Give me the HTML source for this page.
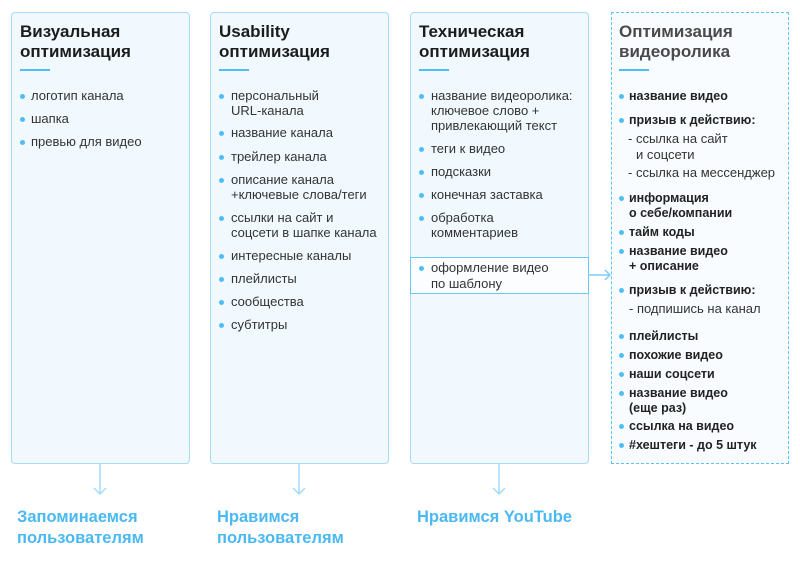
<!DOCTYPE html>
<html><head><meta charset="utf-8"><style>
*{margin:0;padding:0;box-sizing:border-box}
body{width:800px;height:574px;background:#fff;position:relative;font-family:"Liberation Sans",sans-serif;overflow:hidden}
.box{position:absolute;top:12px;height:452px;width:179px;background:#f1f9fe;border:1px solid #a6dcf8;border-radius:4px}
.h{position:absolute;font-size:17px;font-weight:bold;color:#1c1c1c;line-height:20px;white-space:nowrap}
.u{position:absolute;top:69px;width:30px;height:2px;background:#4fbef5}
.t{position:absolute;font-size:13px;color:#333;line-height:16px;white-space:nowrap}
.b{font-weight:bold;font-size:12.5px;color:#222}
.d{position:absolute;width:5px;height:5px;border-radius:50%;background:#4fbef5}
.f{position:absolute;font-size:16.5px;font-weight:bold;color:#4ab9f2;line-height:20px;white-space:nowrap}
</style></head><body>
<div class="box" style="left:11px"></div>
<div class="box" style="left:210px"></div>
<div class="box" style="left:410px"></div>
<div class="box" style="left:611px;width:178px;background:#f8fcfe;border:1.5px dashed #5cc3f5;border-radius:0"></div>
<div style="position:absolute;left:410px;top:257px;width:179px;height:37px;background:#fbfdff;border:1px solid #6cc8f5"></div>

<div class="h" style="left:20px;top:22px">Визуальная</div><div class="h" style="left:20px;top:42px">оптимизация</div>
<div class="h" style="left:219px;top:22px">Usability</div><div class="h" style="left:219px;top:42px">оптимизация</div>
<div class="h" style="left:419px;top:22px">Техническая</div><div class="h" style="left:419px;top:42px">оптимизация</div>
<div class="h" style="left:619px;top:22px;color:#4a4a4a">Оптимизация</div><div class="h" style="left:619px;top:42px;color:#4a4a4a">видеоролика</div>
<div class="u" style="left:20px"></div><div class="u" style="left:219px"></div><div class="u" style="left:419px"></div><div class="u" style="left:619px"></div>

<!-- col1 -->
<div class="d" style="left:20px;top:94px"></div><div class="t" style="left:31px;top:88px">логотип канала</div>
<div class="d" style="left:20px;top:117px"></div><div class="t" style="left:31px;top:111px">шапка</div>
<div class="d" style="left:20px;top:140px"></div><div class="t" style="left:31px;top:134px">превью для видео</div>

<!-- col2 -->
<div class="d" style="left:219px;top:94px"></div><div class="t" style="left:231px;top:88px">персональный</div><div class="t" style="left:231px;top:103px">URL-канала</div>
<div class="d" style="left:219px;top:131px"></div><div class="t" style="left:231px;top:125px">название канала</div>
<div class="d" style="left:219px;top:155px"></div><div class="t" style="left:231px;top:149px">трейлер канала</div>
<div class="d" style="left:219px;top:178px"></div><div class="t" style="left:231px;top:172px">описание канала</div><div class="t" style="left:231px;top:187px">+ключевые слова/теги</div>
<div class="d" style="left:219px;top:216px"></div><div class="t" style="left:231px;top:210px">ссылки на сайт и</div><div class="t" style="left:231px;top:225px">соцсети в шапке канала</div>
<div class="d" style="left:219px;top:254px"></div><div class="t" style="left:231px;top:248px">интересные каналы</div>
<div class="d" style="left:219px;top:277px"></div><div class="t" style="left:231px;top:271px">плейлисты</div>
<div class="d" style="left:219px;top:300px"></div><div class="t" style="left:231px;top:294px">сообщества</div>
<div class="d" style="left:219px;top:323px"></div><div class="t" style="left:231px;top:317px">субтитры</div>

<!-- col3 -->
<div class="d" style="left:419px;top:94px"></div><div class="t" style="left:431px;top:88px">название видеоролика:</div><div class="t" style="left:431px;top:103px">ключевое слово +</div><div class="t" style="left:431px;top:118px">привлекающий текст</div>
<div class="d" style="left:419px;top:147px"></div><div class="t" style="left:431px;top:141px">теги к видео</div>
<div class="d" style="left:419px;top:170px"></div><div class="t" style="left:431px;top:164px">подсказки</div>
<div class="d" style="left:419px;top:193px"></div><div class="t" style="left:431px;top:187px">конечная заставка</div>
<div class="d" style="left:419px;top:216px"></div><div class="t" style="left:431px;top:210px">обработка</div><div class="t" style="left:431px;top:225px">комментариев</div>
<div class="d" style="left:419px;top:266px"></div><div class="t" style="left:431px;top:260px">оформление видео</div><div class="t" style="left:431px;top:276px">по шаблону</div>

<!-- col4 -->
<div class="d" style="left:619px;top:94px"></div><div class="t b" style="left:629px;top:88px">название видео</div>
<div class="d" style="left:619px;top:118px"></div><div class="t b" style="left:629px;top:112px">призыв к действию:</div>
<div class="t" style="left:628px;top:131px">- ссылка на сайт</div><div class="t" style="left:636px;top:147px">и соцсети</div>
<div class="t" style="left:628px;top:165px">- ссылка на мессенджер</div>
<div class="d" style="left:619px;top:196px"></div><div class="t b" style="left:629px;top:190px">информация</div><div class="t b" style="left:629px;top:205px">о себе/компании</div>
<div class="d" style="left:619px;top:230px"></div><div class="t b" style="left:629px;top:224px">тайм коды</div>
<div class="d" style="left:619px;top:249px"></div><div class="t b" style="left:629px;top:243px">название видео</div><div class="t b" style="left:629px;top:258px">+ описание</div>
<div class="d" style="left:619px;top:288px"></div><div class="t b" style="left:629px;top:282px">призыв к действию:</div>
<div class="t" style="left:629px;top:301px">- подпишись на канал</div>
<div class="d" style="left:619px;top:334px"></div><div class="t b" style="left:629px;top:328px">плейлисты</div>
<div class="d" style="left:619px;top:353px"></div><div class="t b" style="left:629px;top:347px">похожие видео</div>
<div class="d" style="left:619px;top:372px"></div><div class="t b" style="left:629px;top:366px">наши соцсети</div>
<div class="d" style="left:619px;top:391px"></div><div class="t b" style="left:629px;top:385px">название видео</div><div class="t b" style="left:629px;top:400px">(еще раз)</div>
<div class="d" style="left:619px;top:424px"></div><div class="t b" style="left:629px;top:418px">ссылка на видео</div>
<div class="d" style="left:619px;top:443px"></div><div class="t b" style="left:629px;top:437px">#хештеги - до 5 штук</div>

<svg style="position:absolute;left:0;top:0" width="800" height="574">
<g stroke="#a6dcf8" stroke-width="1.5" fill="none">
<path d="M100 464V494M94 488L100 494L106 488"/>
<path d="M299 464V494M293 488L299 494L305 488"/>
<path d="M499 464V494M493 488L499 494L505 488"/>
<path d="M589 275H610M605 270L610 275L605 280" stroke="#7fcdf6"/>
</g></svg>

<div class="f" style="left:17px;top:507px">Запоминаемся</div><div class="f" style="left:17px;top:528px">пользователям</div>
<div class="f" style="left:217px;top:507px">Нравимся</div><div class="f" style="left:217px;top:528px">пользователям</div>
<div class="f" style="left:417px;top:507px">Нравимся YouTube</div>
</body></html>
